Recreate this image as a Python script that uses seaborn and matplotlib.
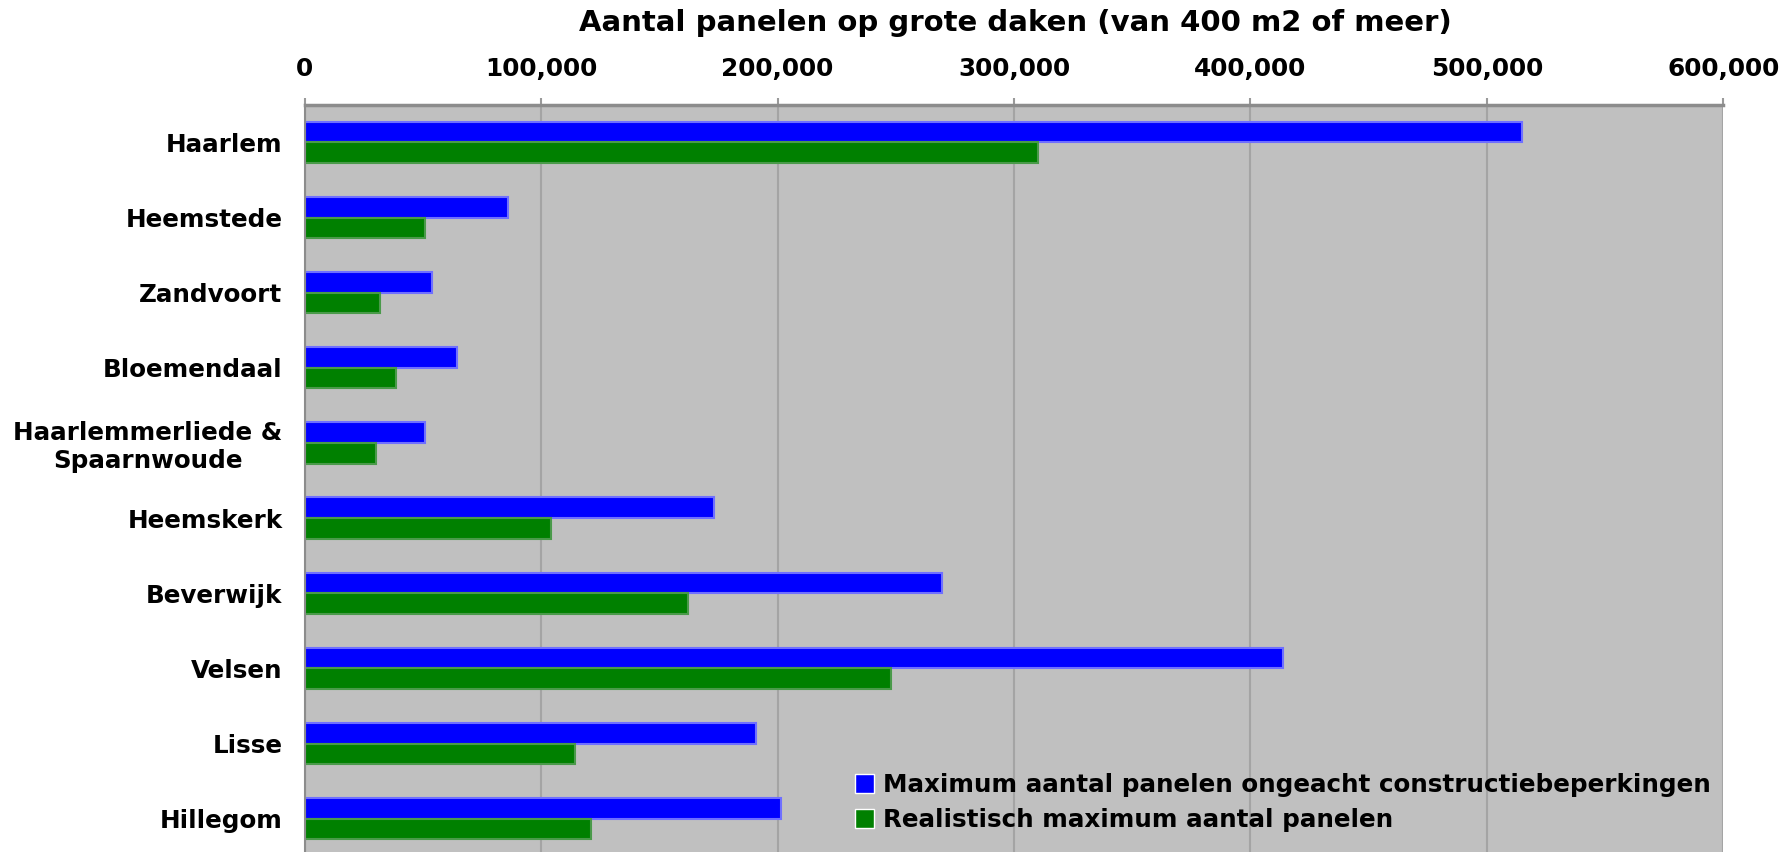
import numpy as np
import pandas as pd
import matplotlib
matplotlib.use('Agg')
import matplotlib.pyplot as plt
import seaborn as sns
from matplotlib.ticker import StrMethodFormatter

# data
gemeenten = ['Haarlem', 'Heemstede', 'Zandvoort', 'Bloemendaal',
             'Haarlemmerliede &\nSpaarnwoude', 'Heemskerk', 'Beverwijk',
             'Velsen', 'Lisse', 'Hillegom']
maximum = [515000, 86000, 54000, 64500, 51000, 173000, 269500, 414000, 191000, 201500]
realistisch = [310000, 51000, 32000, 38500, 30000, 104000, 162000, 248000, 114500, 121000]
reeksen = ['Maximum aantal panelen ongeacht constructiebeperkingen',
           'Realistisch maximum aantal panelen']
titel = 'Aantal panelen op grote daken (van 400 m2 of meer)'

df = pd.DataFrame({'Gemeente': gemeenten, reeksen[0]: maximum, reeksen[1]: realistisch})
df = df.melt(id_vars='Gemeente', var_name='Reeks', value_name='Panelen')

sns.set_style('white')
plt.rcParams['font.family'] = ['DejaVu Sans']
plt.rcParams['text.color'] = 'black'
plt.rcParams['xtick.color'] = 'black'
plt.rcParams['ytick.color'] = 'black'

fig = plt.figure(figsize=(17.82, 8.52), dpi=100)
ax = fig.add_axes([0.171, -0.005, 0.796, 0.882])
ax.set_facecolor('#C0C0C0')

sns.barplot(data=df, y='Gemeente', x='Panelen', hue='Reeks', orient='h',
            order=gemeenten, hue_order=reeksen, palette=['#0000FF', '#008000'],
            saturation=1, width=0.55, gap=0, ax=ax)

# lighter bar edges like the original
for cont, ec in zip(ax.containers, ['#6F6FFF', '#4A9A4A']):
    for bar in cont:
        bar.set_edgecolor(ec)
        bar.set_linewidth(1.5)

ax.set_xlim(0, 600000)
ax.set_ylim(9.5, -0.5)
ax.set_xticks(range(0, 600001, 100000))
ax.xaxis.set_major_formatter(StrMethodFormatter('{x:,.0f}'))
ax.xaxis.tick_top()
ax.set_xlabel('')
ax.set_ylabel('')
ax.grid(axis='x', color='#A4A4A4', linewidth=1.5)
ax.set_axisbelow(True)

ax.set_yticks(np.arange(-0.5, 10, 1), minor=True)
ax.tick_params(axis='y', which='major', length=0, pad=16)
ax.tick_params(axis='y', which='minor', length=8, width=1.5, color='#9A9A9A')
ax.tick_params(axis='x', length=5, width=1.5, color='#9A9A9A', pad=12)
for lab in ax.get_xticklabels():
    lab.set_fontsize(17.8)
    lab.set_fontweight('bold')
for lab in ax.get_yticklabels():
    lab.set_fontsize(17.7)
    lab.set_fontweight('bold')
    lab.set_multialignment('center')

for s in ['right', 'bottom']:
    ax.spines[s].set_visible(False)
ax.spines['top'].set_color('#8C8C8C')
ax.spines['top'].set_linewidth(2.5)
ax.spines['left'].set_color('#8C8C8C')
ax.spines['left'].set_linewidth(1.5)

ax.legend(loc='lower right', bbox_to_anchor=(1.0035, 0.0093), frameon=False,
          handlelength=0.77, handleheight=0.8, handletextpad=0.37,
          labelspacing=0.45, borderaxespad=0.3,
          prop={'size': 17.7, 'weight': 'bold'})

fig.text(0.5696, 0.973, titel, ha='center', va='center', fontsize=21, fontweight='bold')

fig.savefig('out.png', dpi=100)
